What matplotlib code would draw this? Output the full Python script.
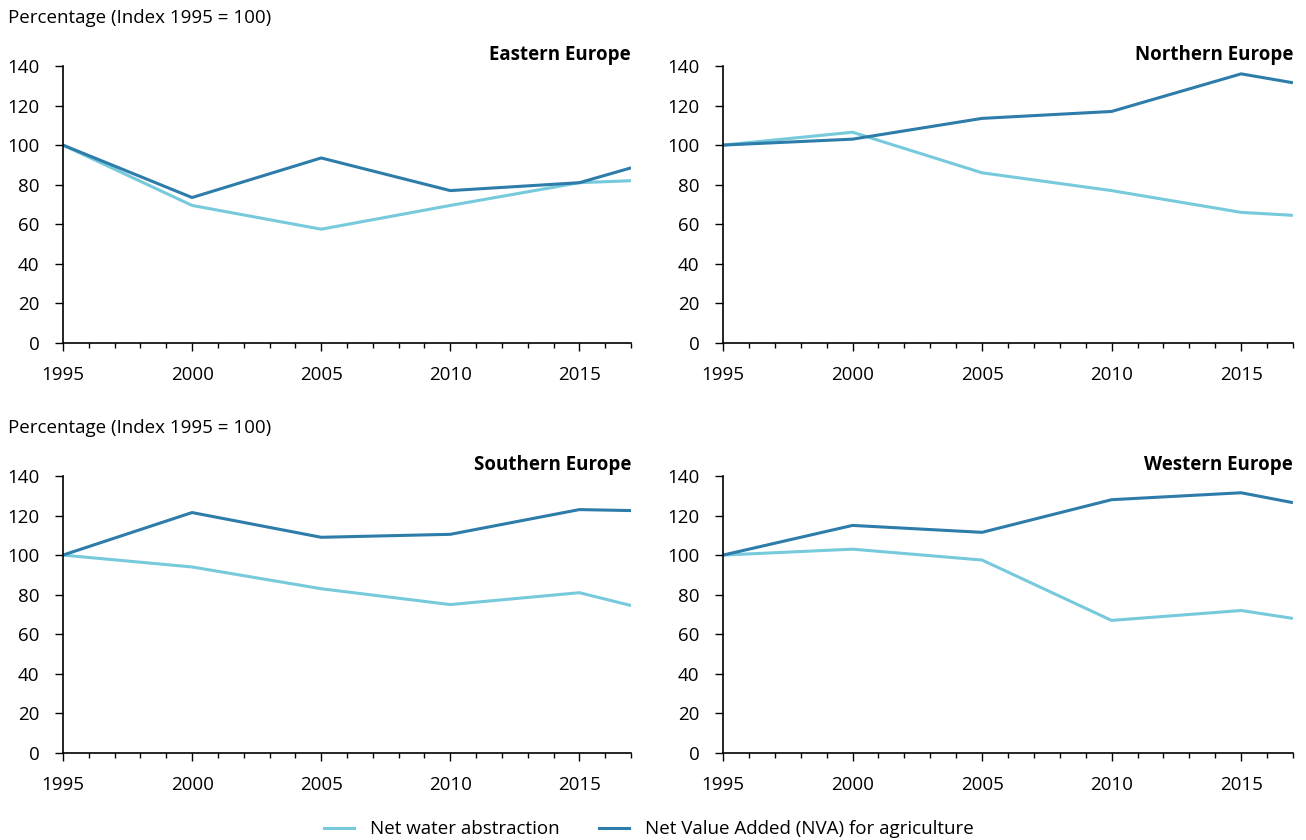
import matplotlib.pyplot as plt
from matplotlib.ticker import MultipleLocator
from matplotlib.lines import Line2D

plt.rcParams["font.family"] = ["Open Sans", "DejaVu Sans"]

years = [1995, 2000, 2005, 2010, 2015, 2017]

regions = ["Eastern Europe", "Northern Europe", "Southern Europe", "Western Europe"]

water = {
    "Eastern Europe": [100, 69.5, 57.5, 69.5, 81, 82],
    "Northern Europe": [100, 106.5, 86, 77, 66, 64.5],
    "Southern Europe": [100, 94, 83, 75, 81, 74.5],
    "Western Europe": [100, 103, 97.5, 67, 72, 68],
}

nva = {
    "Eastern Europe": [100, 73.5, 93.5, 77, 81, 88.5],
    "Northern Europe": [100, 103, 113.5, 117, 136, 131.5],
    "Southern Europe": [100, 121.5, 109, 110.5, 123, 122.5],
    "Western Europe": [100, 115, 111.5, 128, 131.5, 126.5],
}

light = "#76cadb"
dark = "#2d7caa"
fs = 13.5

fig = plt.figure(figsize=(13.06, 8.4), dpi=100)

# axes boxes in figure fractions
boxes = [
    [0.0482, 0.5917, 0.4350, 0.3298],
    [0.5536, 0.5917, 0.4364, 0.3298],
    [0.0482, 0.1036, 0.4350, 0.3298],
    [0.5536, 0.1036, 0.4364, 0.3298],
]

for region, box in zip(regions, boxes):
    ax = fig.add_axes(box)
    ax.plot(years, water[region], color=light, lw=2.2, solid_capstyle="butt")
    ax.plot(years, nva[region], color=dark, lw=2.2, solid_capstyle="butt")
    ax.set_xlim(1995, 2017)
    ax.set_ylim(0, 140)
    ax.set_xticks([1995, 2000, 2005, 2010, 2015])
    ax.xaxis.set_minor_locator(MultipleLocator(1))
    ax.set_yticks(range(0, 141, 20))
    for s in ["top", "right"]:
        ax.spines[s].set_visible(False)
    ax.spines["left"].set_linewidth(1.2)
    ax.spines["bottom"].set_linewidth(1.2)
    ax.tick_params(axis="x", which="major", length=6, width=1, pad=10.5, labelsize=fs)
    ax.tick_params(axis="x", which="minor", length=3.5, width=1)
    ax.tick_params(axis="y", length=6, width=1, pad=11, labelsize=fs)
    ax.set_title(region, loc="right", fontsize=fs, fontweight="bold", pad=2, y=1.01)
    ax.patch.set_visible(False)

fig.text(0.006, 0.978, "Percentage (Index 1995 = 100)", fontsize=fs, va="center")
fig.text(0.006, 0.490, "Percentage (Index 1995 = 100)", fontsize=fs, va="center")

handles = [
    Line2D([], [], color=light, lw=2.2),
    Line2D([], [], color=dark, lw=2.2),
]
fig.legend(handles, ["Net water abstraction", "Net Value Added (NVA) for agriculture"],
           loc="center", bbox_to_anchor=(0.497, 0.013), ncol=2, frameon=False,
           fontsize=fs, handlelength=1.6, columnspacing=2.1, handletextpad=0.85)

fig.savefig("out.png", dpi=100)
